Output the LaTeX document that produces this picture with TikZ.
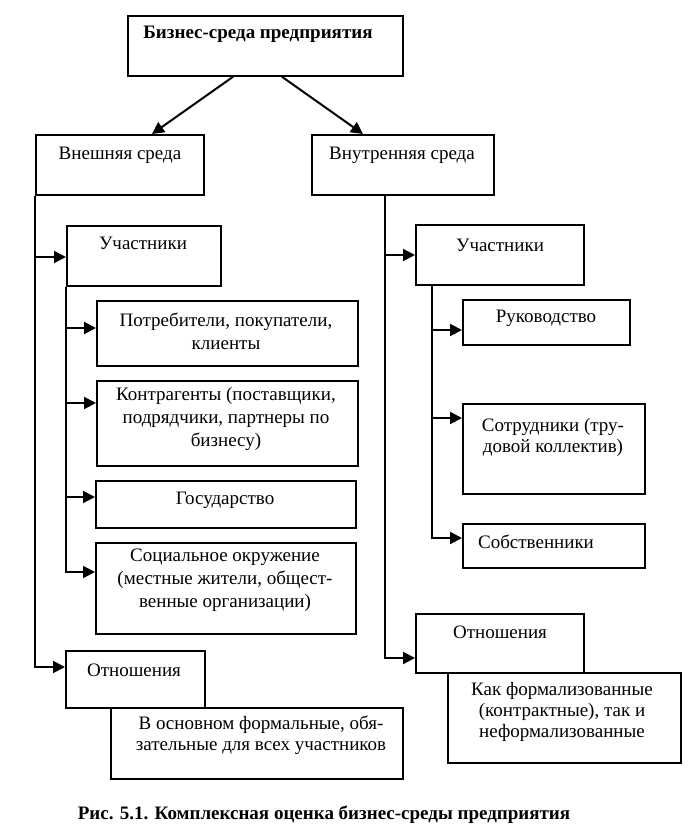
\documentclass[tikz,border=0pt]{standalone}
\usepackage{fontspec}
\setmainfont{Liberation Serif}
\usetikzlibrary{arrows.meta,calc}
\begin{document}
\begin{tikzpicture}[x=1pt,y=-1pt,
  bx/.style={draw, line width=1.8pt, inner sep=0pt, anchor=north west},
  tx/.style={inner sep=0pt, align=center, font=\fontsize{19}{23}\selectfont},
  txs/.style={inner sep=0pt, align=center, font=\fontsize{19}{21}\selectfont},
  arr/.style={line width=2pt, -{Triangle[length=12pt,width=12pt]}},
]
\useasboundingbox (0,0) rectangle (698,834);
% boxes
\node[bx, minimum width=275pt, minimum height=60pt] (top) at (127,15) {};
\node[bx, minimum width=168pt, minimum height=60pt] (ext) at (35,134) {};
\node[bx, minimum width=182pt, minimum height=60pt] (int) at (311,134) {};
\node[bx, minimum width=154pt, minimum height=60pt] (lpart) at (66,225) {};
\node[bx, minimum width=261pt, minimum height=65pt] (cons) at (96,300) {};
\node[bx, minimum width=261pt, minimum height=85pt] (contr) at (96,380) {};
\node[bx, minimum width=260pt, minimum height=47pt] (state) at (95,480) {};
\node[bx, minimum width=260pt, minimum height=91pt] (social) at (95,542) {};
\node[bx, minimum width=139pt, minimum height=57pt] (lrel) at (65,650) {};
\node[bx, minimum width=292pt, minimum height=71pt] (lbot) at (110,707) {};
\node[bx, minimum width=168pt, minimum height=60pt] (rpart) at (415,224) {};
\node[bx, minimum width=167pt, minimum height=45pt] (ruk) at (462,299) {};
\node[bx, minimum width=182pt, minimum height=90pt] (sotr) at (462,403) {};
\node[bx, minimum width=182pt, minimum height=44pt] (sobs) at (462,523) {};
\node[bx, minimum width=168pt, minimum height=59pt] (rrel) at (415,613) {};
\node[bx, minimum width=233pt, minimum height=90pt] (rbot) at (447,672) {};
% texts
\node[tx, font=\fontsize{19}{23}\selectfont\bfseries] (top-t) at (258,34) {Бизнес-среда предприятия};
\node[tx] (ext-t) at (120,155) {Внешняя среда};
\node[tx] (int-t) at (402,155) {Внутренняя среда};
\node[tx] (lpart-t) at (143,243) {Участники};
\node[tx] (cons-t) at (226,331) {Потребители, покупатели,\\клиенты};
\node[tx] (contr-t) at (226,419) {Контрагенты (поставщики,\\подрядчики, партнеры по\\бизнесу)};
\node[tx] (state-t) at (225,500) {Государство};
\node[tx] (social-t) at (225,580) {Социальное окружение\\(местные жители, общест-\\венные организации)};
\node[tx] (lrel-t) at (134,670) {Отношения};
\node[txs] (lbot-t) at (261,735) {В основном формальные, обя-\\зательные для всех участников};
\node[tx] (rpart-t) at (500,245) {Участники};
\node[tx] (ruk-t) at (546,318) {Руководство};
\node[txs] (sotr-t) at (553,437) {Сотрудники (тру-\\довой коллектив)};
\node[tx] (sobs-t) at (536,542) {Собственники};
\node[tx] (rrel-t) at (500,632) {Отношения};
\node[txs] (rbot-t) at (562,712) {Как формализованные\\(контрактные), так и\\неформализованные};
\node[inner sep=0pt, font=\fontsize{19}{22}\selectfont\bfseries] (cap) at (324,815) {Рис. 5.1. Комплексная оценка бизнес-среды предприятия};
% connectors
\draw[arr] ($(top.south west)+(106,0)$) -- ($(ext.north west)+(117,0)$);
\draw[arr] ($(top.south west)+(155,0)$) -- ($(int.north west)+(52,0)$);
\draw[arr] (ext.south west) |- ($(lpart.north west)+(0,32)$);
\draw[arr] (ext.south west) |- ($(lrel.north west)+(0,17)$);
\draw[arr] (lpart.south west) |- ($(cons.north west)+(0,28)$);
\draw[arr] (lpart.south west) |- ($(contr.north west)+(0,23)$);
\draw[arr] (lpart.south west) |- ($(state.north west)+(0,17)$);
\draw[arr] (lpart.south west) |- ($(social.north west)+(0,30)$);
\draw[arr] ($(int.south west)+(74,0)$) |- ($(rpart.north west)+(0,31)$);
\draw[arr] ($(int.south west)+(74,0)$) |- ($(rrel.north west)+(0,45)$);
\draw[arr] ($(rpart.south west)+(17,0)$) |- ($(ruk.north west)+(0,31)$);
\draw[arr] ($(rpart.south west)+(17,0)$) |- ($(sotr.north west)+(0,15)$);
\draw[arr] ($(rpart.south west)+(17,0)$) |- ($(sobs.north west)+(0,15)$);
\end{tikzpicture}
\end{document}
